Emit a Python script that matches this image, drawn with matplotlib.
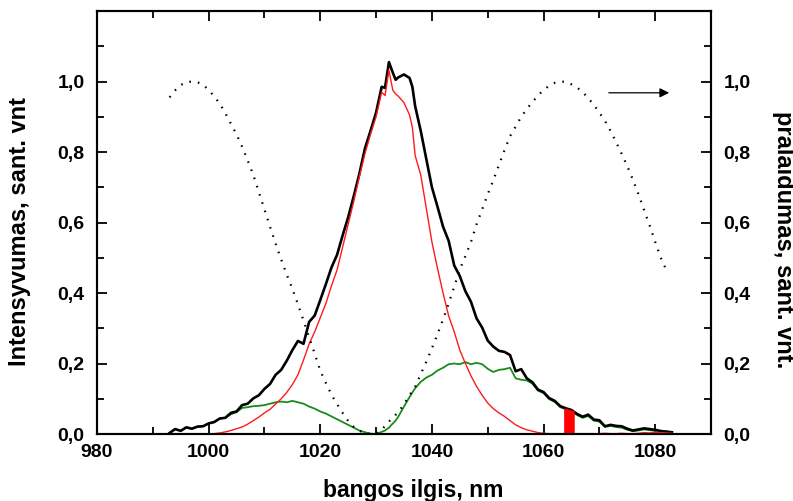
import matplotlib
matplotlib.use('Agg')
import matplotlib.pyplot as plt
import numpy as np

plt.rcParams['font.family'] = ['Liberation Sans', 'DejaVu Sans']
plt.rcParams['font.weight'] = 'bold'

# Wavelength grid of the spectra (nm)
wl = [993, 994, 995, 996, 997, 998, 999, 1000, 1001, 1002, 1003, 1004, 1005, 1006, 1007, 1008, 1009,
      1010, 1011, 1012, 1013, 1014, 1015, 1016, 1017, 1018, 1019, 1020, 1021, 1022, 1023, 1024, 1025,
      1026, 1027, 1028, 1029, 1030, 1031, 1031.6, 1032.3, 1033, 1033.5, 1034, 1035, 1036, 1036.5,
      1037, 1038, 1039, 1040, 1041, 1042, 1043, 1044, 1045, 1046, 1047, 1048, 1049, 1050, 1051, 1052,
      1053, 1054, 1055, 1056, 1057, 1058, 1059, 1060, 1061, 1062, 1063, 1064, 1065, 1066, 1067, 1068,
      1069, 1070, 1071, 1072, 1073, 1074, 1075, 1076, 1077, 1078, 1079, 1080, 1081, 1082, 1083]

# Total spectrum (black)
total = [0.003, 0.014, 0.009, 0.019, 0.015, 0.021, 0.022, 0.030, 0.034, 0.044, 0.046, 0.060, 0.064,
         0.082, 0.086, 0.101, 0.110, 0.128, 0.142, 0.168, 0.182, 0.208, 0.238, 0.264, 0.256, 0.318,
         0.336, 0.380, 0.425, 0.472, 0.508, 0.563, 0.615, 0.675, 0.738, 0.810, 0.860, 0.912, 0.985,
         0.982, 1.055, 1.025, 1.005, 1.012, 1.020, 1.010, 0.985, 0.930, 0.860, 0.780, 0.700, 0.645,
         0.588, 0.548, 0.478, 0.448, 0.405, 0.375, 0.328, 0.302, 0.265, 0.248, 0.236, 0.233, 0.224,
         0.178, 0.184, 0.158, 0.147, 0.126, 0.119, 0.102, 0.094, 0.079, 0.073, 0.068, 0.057, 0.049,
         0.055, 0.041, 0.039, 0.022, 0.026, 0.023, 0.022, 0.015, 0.010, 0.013, 0.016, 0.014, 0.012,
         0.008, 0.007, 0.005]

# First channel (red)
chan1 = [0.000, 0.000, 0.000, 0.000, 0.000, 0.000, 0.000, 0.000, 0.001, 0.003, 0.006, 0.010, 0.015,
         0.020, 0.028, 0.038, 0.048, 0.060, 0.070, 0.085, 0.100, 0.118, 0.140, 0.168, 0.210, 0.255,
         0.290, 0.330, 0.370, 0.420, 0.465, 0.530, 0.595, 0.660, 0.730, 0.795, 0.850, 0.900, 0.970,
         0.960, 1.032, 0.975, 0.965, 0.958, 0.940, 0.905, 0.870, 0.790, 0.735, 0.640, 0.545, 0.470,
         0.400, 0.335, 0.290, 0.238, 0.200, 0.165, 0.135, 0.110, 0.088, 0.072, 0.060, 0.050, 0.038,
         0.026, 0.018, 0.012, 0.008, 0.004, 0.002, 0.001, 0.001, 0.001, 0.001, 0.001, 0.001, 0.001,
         0.001, 0.001, 0.001, 0.002, 0.001, 0.001, 0.002, 0.001, 0.001, 0.002, 0.004, 0.003, 0.005,
         0.004, 0.003, 0.002]

# Second channel (green)
chan2 = [0.003, 0.014, 0.009, 0.019, 0.015, 0.021, 0.022, 0.030, 0.034, 0.044, 0.046, 0.056, 0.062,
         0.074, 0.076, 0.079, 0.080, 0.082, 0.086, 0.090, 0.092, 0.090, 0.094, 0.090, 0.086, 0.078,
         0.072, 0.064, 0.058, 0.050, 0.042, 0.034, 0.026, 0.018, 0.010, 0.005, 0.001, 0.000, 0.006,
         0.010, 0.018, 0.030, 0.038, 0.050, 0.078, 0.105, 0.118, 0.130, 0.148, 0.160, 0.168, 0.180,
         0.188, 0.198, 0.200, 0.198, 0.204, 0.198, 0.202, 0.198, 0.185, 0.176, 0.182, 0.184, 0.188,
         0.158, 0.154, 0.152, 0.143, 0.123, 0.116, 0.099, 0.091, 0.076, 0.070, 0.064, 0.054, 0.046,
         0.051, 0.038, 0.035, 0.020, 0.023, 0.020, 0.018, 0.012, 0.008, 0.010, 0.013, 0.011, 0.009,
         0.010, 0.006, 0.003]

# Filter transmission (dotted, right axis)
wl_t = np.arange(993, 1083)
trans = [0.955, 0.975, 0.990, 0.998, 1.000, 0.998, 0.991, 0.976, 0.958, 0.937, 0.910, 0.880, 0.850,
         0.815, 0.776, 0.735, 0.686, 0.637, 0.588, 0.540, 0.495, 0.452, 0.412, 0.368, 0.322, 0.275,
         0.228, 0.180, 0.145, 0.112, 0.085, 0.060, 0.037, 0.020, 0.009, 0.003, 0.000, 0.001, 0.012,
         0.030, 0.047, 0.062, 0.085, 0.110, 0.134, 0.170, 0.205, 0.243, 0.283, 0.325, 0.370, 0.418,
         0.467, 0.505, 0.545, 0.595, 0.637, 0.680, 0.720, 0.763, 0.805, 0.845, 0.872, 0.900, 0.922,
         0.942, 0.960, 0.976, 0.988, 0.996, 1.000, 0.999, 0.992, 0.983, 0.970, 0.953, 0.934, 0.912,
         0.888, 0.860, 0.828, 0.795, 0.760, 0.722, 0.680, 0.636, 0.592, 0.545, 0.500, 0.465]

# Red filled band near 1064 nm
band_x = [1063.6, 1064.0, 1064.5, 1065.0, 1065.5]
band_top = [0.074, 0.073, 0.071, 0.068, 0.066]

xticks = [980, 1000, 1020, 1040, 1060, 1080]
yticks = [0.0, 0.2, 0.4, 0.6, 0.8, 1.0]
ytick_labels = ['0,0', '0,2', '0,4', '0,6', '0,8', '1,0']

fig = plt.figure(figsize=(7.93, 5.01), dpi=100, facecolor='white')
ax = fig.add_axes([0.1223, 0.1337, 0.7743, 0.8443])

ax.plot(wl, chan2, color='#1a8a1a', linewidth=1.3, zorder=2)
ax.plot(wl, total, color='black', linewidth=1.9, zorder=3)
ax.plot(wl, chan1, color='#ff1a1a', linewidth=1.0, zorder=4)
ax.fill_between(band_x, 0, band_top, color='#ff0000', linewidth=0, zorder=5)

ax.set_xlim(980, 1090)
ax.set_ylim(0, 1.2)
ax.set_xticks(xticks)
ax.set_xticks(np.arange(990, 1091, 20), minor=True)
ax.set_yticks(yticks)
ax.set_yticklabels(ytick_labels)
ax.set_yticks(np.arange(0.1, 1.2, 0.2), minor=True)
ax.tick_params(which='both', direction='in', top=True, labelsize=14, width=1.3)
ax.tick_params(axis='y', pad=9)
ax.tick_params(axis='x', pad=7)
ax.tick_params(which='major', length=7)
ax.tick_params(which='minor', length=5)
for lab in ax.get_xticklabels() + ax.get_yticklabels():
    lab.set_fontweight('bold')

ax2 = ax.twinx()
ax2.plot(wl_t, trans, color='black', linewidth=1.6, linestyle=(0, (0.7, 3.2)))
ax2.set_ylim(0, 1.2)
ax2.set_yticks(yticks)
ax2.set_yticklabels(ytick_labels)
ax2.set_yticks(np.arange(0.1, 1.2, 0.2), minor=True)
ax2.tick_params(which='both', direction='in', labelsize=14, width=1.3, pad=9)
ax2.tick_params(which='major', length=7)
ax2.tick_params(which='minor', length=5)
for lab in ax2.get_yticklabels():
    lab.set_fontweight('bold')

for a in (ax, ax2):
    for s in a.spines.values():
        s.set_linewidth(1.5)

ax2.annotate('', xy=(1083, 0.968), xytext=(1071.2, 0.968),
             arrowprops=dict(arrowstyle='-|>', color='black', lw=0.9, mutation_scale=14))

fig.text(20/793, 1-232/501, 'Intensyvumas, sant. vnt', rotation=90, ha='center', va='center',
         fontsize=17, fontweight='bold')
fig.text(783/793, 1-240/501, 'pralaidumas, sant. vnt.', rotation=270, ha='center', va='center',
         fontsize=17, fontweight='bold')
fig.text(413/793, 1-490/501, 'bangos ilgis, nm', ha='center', va='center',
         fontsize=16.5, fontweight='bold')

fig.savefig('out.png', dpi=100)
